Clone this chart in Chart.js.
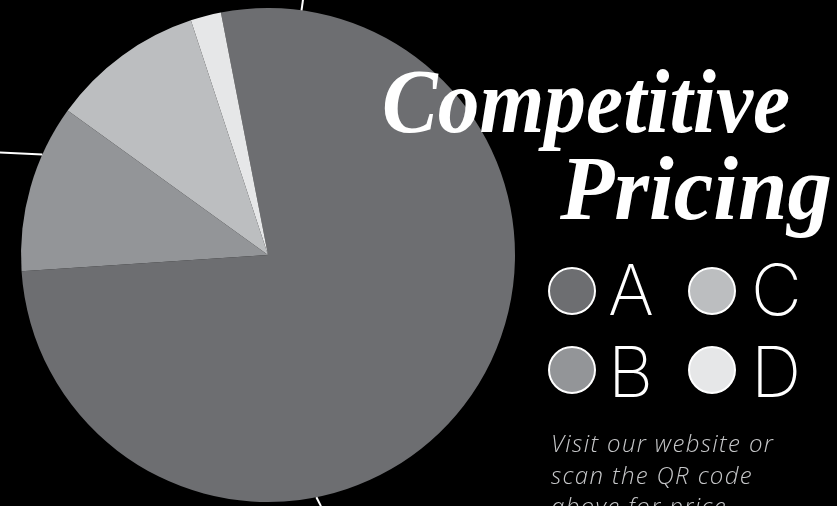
<!DOCTYPE html>
<html>
<head>
<meta charset="utf-8">
<script src="https://cdn.jsdelivr.net/npm/chart.js@4.4.1/dist/chart.umd.min.js"></script>
<style>
  html, body { margin: 0; padding: 0; background: #000; }
  body { width: 837px; height: 506px; position: relative; overflow: hidden; }
  #chartBox { position: absolute; left: 0; top: 0; width: 837px; height: 506px; }
  .title { position: absolute; color: #fff; font-family: "Liberation Serif", serif; font-style: italic; font-weight: bold; white-space: nowrap; line-height: 1; transform-origin: 0 0; }
  .swatch { position: absolute; box-sizing: border-box; width: 48px; height: 48px; border-radius: 50%; border: 2.5px solid #fff; }
  .letter { position: absolute; color: #fff; font-family: "Inter", sans-serif; font-weight: 160; font-size: 70px; line-height: 70px; }
  #note { position: absolute; left: 551px; top: 427px; width: 290px; color: #c6c7c9; font-family: "Open Sans", sans-serif; font-style: italic; font-weight: 300; font-size: 24px; line-height: 31.5px; letter-spacing: 1.35px; }
</style>
</head>
<body>
<div id="chartBox"><canvas id="c"></canvas></div>
<div class="title" id="t1">Competitive</div>
<div class="title" id="t2">Pricing</div>
<div id="legend"></div>
<div id="note">Visit our website or<br>scan the QR code<br>above for price<br>details</div>
<script>
const categories = ['A', 'B', 'C', 'D'];
const shareValues = [77, 11, 10, 2];
const sliceColors = ['#6d6e71', '#939598', '#bcbec0', '#e6e7e8'];

// decorative leader lines leaving the pie edge (angles clockwise from top, degrees)
const leaderLines = [
  { at: 7.8, dir: 8, len: 14 },
  { at: 294, dir: 272.7, len: 46 },
  { at: 168.7, dir: 153, len: 10 }
];

const leaderPlugin = {
  id: 'leaders',
  afterDatasetsDraw(chart) {
    const arc = chart.getDatasetMeta(0).data[0];
    if (!arc) return;
    const ctx = chart.ctx;
    const cx = arc.x, cy = arc.y, r = arc.outerRadius;
    ctx.save();
    ctx.strokeStyle = '#ffffff';
    ctx.lineWidth = 2;
    leaderLines.forEach(l => {
      const a = l.at * Math.PI / 180, d = l.dir * Math.PI / 180;
      const x0 = cx + r * Math.sin(a), y0 = cy - r * Math.cos(a);
      ctx.beginPath();
      ctx.moveTo(x0, y0);
      ctx.lineTo(x0 + l.len * Math.sin(d), y0 - l.len * Math.cos(d));
      ctx.stroke();
    });
    ctx.restore();
  }
};

new Chart(document.getElementById('c'), {
  type: 'pie',
  data: {
    labels: categories,
    datasets: [{
      data: shareValues,
      backgroundColor: sliceColors,
      borderWidth: 0,
      hoverOffset: 0
    }]
  },
  options: {
    responsive: true,
    maintainAspectRatio: false,
    animation: false,
    rotation: -11,
    layout: { padding: { left: 21, top: 8, right: 322, bottom: 4 } },
    plugins: { legend: { display: false }, tooltip: { enabled: false } }
  },
  plugins: [leaderPlugin]
});

// legend: 2 columns (A,B | C,D)
const legend = document.getElementById('legend');
categories.forEach((cat, i) => {
  const col = Math.floor(i / 2), row = i % 2;
  const sw = document.createElement('div');
  sw.className = 'swatch';
  sw.style.background = sliceColors[i];
  sw.style.left = (548 + col * 140) + 'px';
  sw.style.top = (267 + row * 78.5) + 'px';
  legend.appendChild(sw);
  const lt = document.createElement('div');
  lt.className = 'letter';
  lt.textContent = cat;
  lt.style.left = (608 + col * 143) + 'px';
  lt.style.top = (255 + row * 82) + 'px';
  legend.appendChild(lt);
});

// title fitting
function fit(el, left, top, size, width) {
  el.style.fontSize = size + 'px';
  el.style.left = left + 'px';
  el.style.top = top + 'px';
  const w = el.getBoundingClientRect().width;
  el.style.transform = 'scaleX(' + (width / w) + ')';
}
fit(document.getElementById('t1'), 382, 55, 92, 408);
fit(document.getElementById('t2'), 560, 142, 92, 272);
</script>
</body>
</html>
